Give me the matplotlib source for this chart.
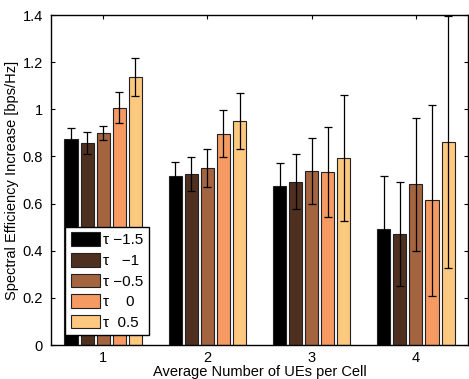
import numpy as np
import matplotlib.pyplot as plt

plt.rcParams['font.family'] = ['Liberation Sans', 'DejaVu Sans']

# average number of UEs per cell
groups = [1, 2, 3, 4]
labels = ['τ −1.5', 'τ   −1', 'τ −0.5', 'τ    0', 'τ  0.5']
colors = ['#000000', '#4f3020', '#a3643f', '#f49a62', '#fdc880']

# spectral efficiency increase [bps/Hz], one row per tau
means = np.array([
    [0.873, 0.717, 0.675, 0.491],
    [0.856, 0.727, 0.693, 0.471],
    [0.901, 0.751, 0.738, 0.682],
    [1.007, 0.897, 0.735, 0.614],
    [1.136, 0.950, 0.793, 0.860],
])
errs = np.array([
    [0.046, 0.061, 0.097, 0.227],
    [0.047, 0.072, 0.117, 0.222],
    [0.030, 0.082, 0.139, 0.283],
    [0.066, 0.099, 0.190, 0.404],
    [0.080, 0.120, 0.268, 0.535],
])

fig = plt.figure(figsize=(4.69, 3.79), dpi=100)
ax = fig.add_axes([0.1087, 0.0897, 0.8893, 0.8707])

x = np.array(groups, dtype=float)
step = 0.154
width = 0.125
for i in range(len(labels)):
    xi = x + (i - 2) * step
    ax.bar(xi, means[i], width, color=colors[i], edgecolor='#222222',
           linewidth=0.8, label=labels[i], zorder=2)
    ax.errorbar(xi, means[i], yerr=errs[i], fmt='none', ecolor='black',
                elinewidth=0.9, capsize=3, capthick=0.9, zorder=3)

ax.set_xlim(0.5, 4.5)
ax.set_ylim(0, 1.4)
ax.set_xticks(groups)
ax.set_yticks([0, 0.2, 0.4, 0.6, 0.8, 1, 1.2, 1.4])
ax.set_yticklabels(['0', '0.2', '0.4', '0.6', '0.8', '1', '1.2', '1.4'])
ax.tick_params(direction='in', top=True, right=True, labelsize=10.5, length=3)
ax.tick_params(axis='y', pad=6)
ax.tick_params(axis='x', pad=4.5)
for s in ax.spines.values():
    s.set_linewidth(1.0)

ax.set_xlabel('Average Number of UEs per Cell', fontsize=10.5, labelpad=0)
ax.set_ylabel('Spectral Efficiency Increase [bps/Hz]', fontsize=10.5, labelpad=2)

leg = ax.legend(loc='lower left', bbox_to_anchor=(0.034, 0.03), fontsize=11,
                frameon=True, fancybox=False, edgecolor='black', framealpha=1,
                handlelength=1.9, handleheight=1.0, handletextpad=0.25,
                labelspacing=0.36, borderpad=0.35, borderaxespad=0)
leg.get_frame().set_linewidth(1.0)

fig.savefig('out.png', dpi=100)
